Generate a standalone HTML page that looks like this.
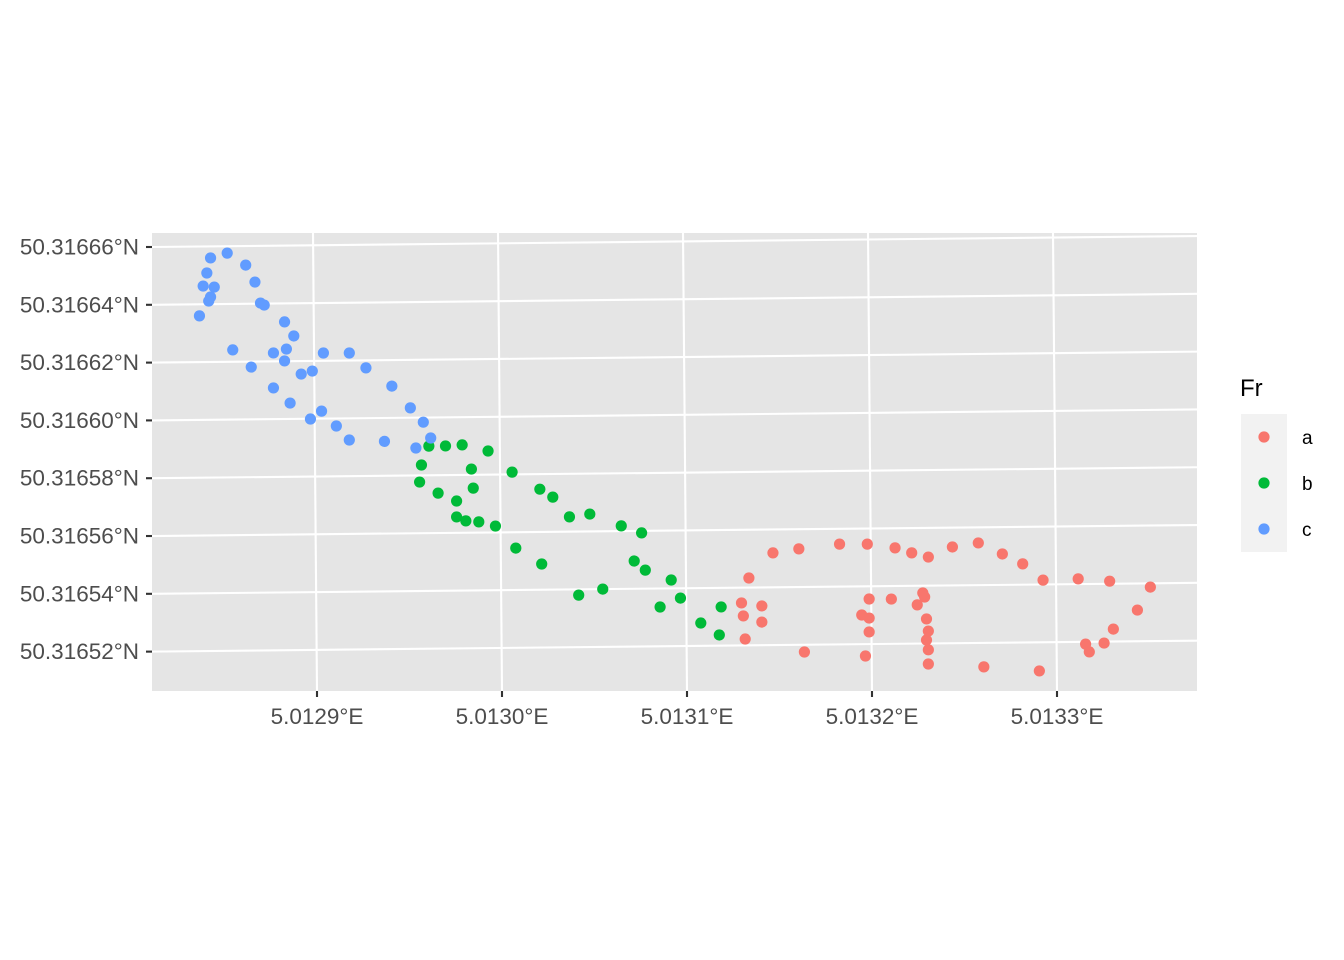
<!DOCTYPE html>
<html><head><meta charset="utf-8"><style>
html,body{margin:0;padding:0;background:#fff;}
svg{display:block;font-family:"Liberation Sans",Arial,sans-serif;}
</style></head><body>
<svg id="chart" width="1344" height="960" viewBox="0 0 1344 960">
<rect x="0" y="0" width="1344" height="960" fill="#fff"/>
<rect x="152" y="233" width="1045" height="458" fill="#e5e5e5"/>
<g id="grid"></g>
<g id="axes"></g>
<g id="points"></g>
<g id="legend">
<text x="1240" y="396" font-size="24" fill="#000">Fr</text>
<rect x="1241" y="414" width="46" height="138" fill="#f2f2f2"/>
</g>
</svg>
<script>
// lon offsets in 1e-6 deg from 5.0128; lat offsets in 1e-7 deg from 50.316494
const lonTicks=[100,200,300,400,500];
const lonLabels=["5.0129°E","5.0130°E","5.0131°E","5.0132°E","5.0133°E"];
const latLabels=["50.31666°N","50.31664°N","50.31662°N","50.31660°N","50.31658°N","50.31656°N","50.31654°N","50.31652°N"];
const latTicksAll=[1660,1460,1260,1060,860,660,460,260];
const groups=["a","b","c"];
const groupColors=["#F8766D","#00BA38","#619CFF"];
const lonA=[347,361,383,398,413,422,431,444,458,471,482,493,512,529,551,544,531,526,516,518,491,461,431,431,430,431,430,425,429,428,411,399,395,399,399,397,364,341,341,330,331,332,334];
const latA=[579,592,607,606,592,574,559,593,606,567,532,475,478,469,447,368,303,255,252,225,161,177,189,238,272,303,345,394,421,435,415,416,361,350,302,219,235,396,340,407,362,282,493];
const lonB=[161,170,179,193,157,184,206,156,185,166,176,221,228,248,237,176,181,188,197,265,276,208,272,222,278,292,242,255,297,286,319,308,318];
const latB=[961,961,964,942,896,880,868,837,814,798,770,808,780,720,711,715,701,697,682,678,653,605,556,549,524,489,440,460,426,396,394,339,297];
const lonC=[52,43,62,41,67,39,45,43,42,70,72,37,83,88,55,84,77,104,118,83,65,127,98,92,141,77,86,151,103,97,158,111,162,118,137,154];
const latC=[1636,1620,1594,1568,1535,1523,1519,1485,1471,1462,1455,1420,1396,1347,1301,1302,1289,1287,1286,1261,1241,1234,1225,1215,1170,1168,1115,1094,1086,1059,1044,1034,989,985,979,955];
const seriesLon=[lonA,lonB,lonC];
const seriesLat=[latA,latB,latC];

const NS="http://www.w3.org/2000/svg";
function xPx(lon){return 131+lon*1.85;}
function yPx(lat,px){return 247-(lat-1660)/3.46-0.0105*(px-152);}
function mk(tag,attrs,parent){const e=document.createElementNS(NS,tag);for(const k in attrs)e.setAttribute(k,attrs[k]);parent.appendChild(e);return e;}
const grid=document.getElementById('grid'),axes=document.getElementById('axes'),pts=document.getElementById('points'),leg=document.getElementById('legend');
latTicksAll.forEach((t,i)=>{
  const l=mk('line',{x1:152,y1:yPx(t,152),x2:1197,y2:yPx(t,1197),stroke:'#fff','stroke-width':2.1},grid);
  
  
  const tk=mk('line',{x1:146,y1:yPx(t,152),x2:152,y2:yPx(t,152),stroke:'#333','stroke-width':2.1},axes);
  
  
  const tx=mk('text',{x:139,y:yPx(t,152)+7.5,'text-anchor':'end','font-size':22.5,fill:'#4d4d4d'},axes);
  tx.textContent=latLabels[i];
  
  
});
lonTicks.forEach((t,i)=>{
  const x=xPx(t);
  const l=mk('line',{x1:x-3,y1:233,x2:x+1,y2:691,stroke:'#fff','stroke-width':2.1},grid);
  
  
  const tk=mk('line',{x1:x+1,y1:691,x2:x+1,y2:697,stroke:'#333','stroke-width':2.1},axes);
  
  
  const tx=mk('text',{x:x+1,y:724,'text-anchor':'middle','font-size':22.5,fill:'#4d4d4d'},axes);
  tx.textContent=lonLabels[i];
  
  
});
seriesLon.forEach((lons,g)=>{
  lons.forEach((lon,i)=>{
    const x=xPx(lon);
    const c=mk('circle',{cx:x,cy:yPx(seriesLat[g][i],x),r:5.6,fill:groupColors[g]},pts);
    
    
  });
});
groups.forEach((g,i)=>{
  const cy=437+i*46;
  const c=mk('circle',{cx:1264,cy:cy,r:5.6,fill:groupColors[i]},leg);
  
  
  const t=mk('text',{x:1302,y:cy+7,'font-size':19,fill:'#000'},leg);
  t.textContent=g;
  
  
});
</script>
</body></html>
